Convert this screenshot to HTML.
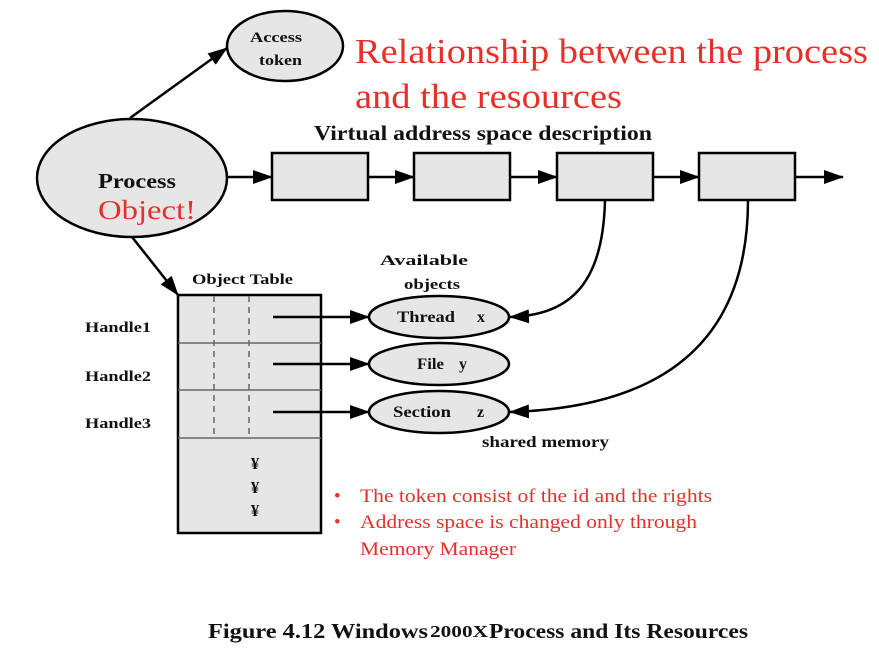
<!DOCTYPE html>
<html><head><meta charset="utf-8"><style>
body{margin:0;background:#fff}
svg{display:block}
.b{font-family:"Liberation Serif",serif;font-weight:bold;fill:#111}
.r{font-family:"Liberation Serif",serif;fill:#e8302a}
</style></head><body>
<svg width="879" height="666" viewBox="0 0 879 666" xmlns="http://www.w3.org/2000/svg">
<defs><marker id="A" markerWidth="20" markerHeight="14" refX="19" refY="7" orient="auto" markerUnits="userSpaceOnUse"><path d="M0,0 L20,7 L0,14 z" fill="#000"/></marker></defs>
<g stroke="#000" stroke-width="2.5" fill="#e6e6e6">
<ellipse cx="132" cy="178" rx="95" ry="59"/>
<ellipse cx="285" cy="46" rx="58" ry="35"/>
<rect x="272" y="153" width="96" height="47"/>
<rect x="414" y="153" width="96" height="47"/>
<rect x="557" y="153" width="96" height="47"/>
<rect x="699" y="153" width="96" height="47"/>
<rect x="178" y="295" width="143" height="238"/>
<ellipse cx="439" cy="317" rx="70" ry="21"/>
<ellipse cx="439" cy="364" rx="70" ry="21"/>
<ellipse cx="439" cy="412" rx="70" ry="21"/>
</g>
<g stroke="#666" stroke-width="1.5" fill="none">
<line x1="178" y1="343" x2="321" y2="343"/><line x1="178" y1="390" x2="321" y2="390"/><line x1="178" y1="438" x2="321" y2="438"/>
<line x1="214" y1="296" x2="214" y2="438" stroke-dasharray="6,5"/><line x1="249" y1="296" x2="249" y2="438" stroke-dasharray="6,5"/>
</g>
<g stroke="#000" stroke-width="2.5" fill="none" marker-end="url(#A)">
<line x1="130" y1="118" x2="227" y2="48"/>
<line x1="227" y1="177" x2="272" y2="177"/>
<line x1="368" y1="177" x2="414" y2="177"/>
<line x1="510" y1="177" x2="557" y2="177"/>
<line x1="653" y1="177" x2="699" y2="177"/>
<line x1="795" y1="177" x2="843" y2="177"/>
<line x1="132" y1="237" x2="178" y2="295"/>
<line x1="273" y1="317" x2="369" y2="317"/>
<line x1="273" y1="364" x2="369" y2="364"/>
<line x1="273" y1="412" x2="369" y2="412"/>
<path d="M605,200 C603,290 565,315 510,317"/>
<path d="M748,200 C748,360 640,408 510,412"/>
</g>
<g lengthAdjust="spacingAndGlyphs">
<text class="b" x="250" y="42" font-size="15" textLength="52" lengthAdjust="spacingAndGlyphs">Access</text>
<text class="b" x="259" y="65" font-size="15" textLength="43" lengthAdjust="spacingAndGlyphs">token</text>
<text class="b" x="98" y="188" font-size="21" textLength="78" lengthAdjust="spacingAndGlyphs">Process</text>
<text class="r" x="98" y="219" font-size="27" textLength="98" lengthAdjust="spacingAndGlyphs">Object!</text>
<text class="r" x="355" y="63" font-size="35" textLength="513" lengthAdjust="spacingAndGlyphs">Relationship between the process</text>
<text class="r" x="355" y="108" font-size="35" textLength="267" lengthAdjust="spacingAndGlyphs">and the resources</text>
<text class="b" x="314" y="140" font-size="21" textLength="338" lengthAdjust="spacingAndGlyphs">Virtual address space description</text>
<text class="b" x="192" y="284" font-size="15" textLength="101" lengthAdjust="spacingAndGlyphs">Object Table</text>
<text class="b" x="380" y="265" font-size="15" textLength="88" lengthAdjust="spacingAndGlyphs">Available</text>
<text class="b" x="404" y="289" font-size="15" textLength="56" lengthAdjust="spacingAndGlyphs">objects</text>
<text class="b" x="85" y="332" font-size="15" textLength="66" lengthAdjust="spacingAndGlyphs">Handle1</text>
<text class="b" x="85" y="381" font-size="15" textLength="66" lengthAdjust="spacingAndGlyphs">Handle2</text>
<text class="b" x="85" y="428" font-size="15" textLength="66" lengthAdjust="spacingAndGlyphs">Handle3</text>
<text class="b" x="397" y="322" font-size="16" textLength="58" lengthAdjust="spacingAndGlyphs">Thread</text><text class="b" x="477" y="322" font-size="16">x</text>
<text class="b" x="417" y="369" font-size="16" textLength="27" lengthAdjust="spacingAndGlyphs">File</text><text class="b" x="459" y="369" font-size="16">y</text>
<text class="b" x="393" y="417" font-size="16" textLength="58" lengthAdjust="spacingAndGlyphs">Section</text><text class="b" x="477" y="417" font-size="16">z</text>
<text class="b" x="482" y="447" font-size="16" textLength="127" lengthAdjust="spacingAndGlyphs">shared memory</text>
<g class="b" font-size="17" fill="#555"><text x="255" y="469" text-anchor="middle">¥</text><text x="255" y="493" text-anchor="middle">¥</text><text x="255" y="516" text-anchor="middle">¥</text></g>
<g class="r" font-size="19"><text x="334" y="502">•</text><text x="360" y="502" textLength="352" lengthAdjust="spacingAndGlyphs">The token consist of the id and the rights</text>
<text x="334" y="528">•</text><text x="360" y="528" textLength="337" lengthAdjust="spacingAndGlyphs">Address space is changed only through</text>
<text x="360" y="555" textLength="156" lengthAdjust="spacingAndGlyphs">Memory Manager</text></g>
<text class="b" x="208" y="638" font-size="21" textLength="220" lengthAdjust="spacingAndGlyphs">Figure 4.12  Windows</text>
<text class="b" x="430" y="637" font-size="17" textLength="58" lengthAdjust="spacingAndGlyphs">2000X</text>
<text class="b" x="489" y="638" font-size="21" textLength="259" lengthAdjust="spacingAndGlyphs">Process and Its Resources</text>
</g>
</svg>
</body></html>
